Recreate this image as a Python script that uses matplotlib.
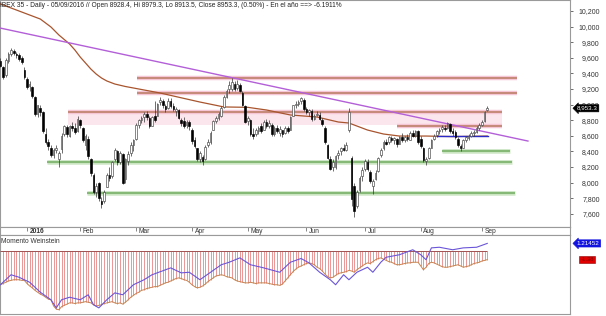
import matplotlib
matplotlib.use("Agg")
import matplotlib.pyplot as plt
import matplotlib.transforms as mtransforms
import numpy as np

plt.rcParams.update({
    'font.family': ['Liberation Sans', 'DejaVu Sans'],
    'font.size': 5,
})

# daily bars, 17 Dec 2015 .. 5 Sep 2016 (trading-day index)
opens = [
    9560, 9480, 9380, 9560, 9650, 9690, 9650, 9640, 9600, 9450,
    9330, 9240, 9230, 9100, 8880, 8960, 8900, 8620, 8520, 8440,
    8350, 8420, 8300, 8430, 8620, 8710, 8600, 8720, 8700, 8660,
    8800, 8700, 8480, 8560, 8300, 8100, 7880, 7990, 7760, 7760,
    7950, 8100, 8080, 8300, 8400, 8260, 8370, 8040, 8280, 8380,
    8480, 8560, 8740, 8800, 8840, 8880, 8830, 8730, 8850, 8860,
    9030, 9050, 8980, 8960, 9040, 8980, 8920, 8930, 8800, 8790,
    8740, 8780, 8680, 8540, 8440, 8300, 8330, 8300, 8480, 8520,
    8680, 8790, 8830, 8860, 8970, 9100, 9200, 9200, 9270, 9210,
    9250, 9150, 8980, 8790, 8800, 8620, 8620, 8660, 8720, 8680,
    8780, 8720, 8740, 8620, 8700, 8640, 8670, 8630, 8700, 8680,
    8860, 9000, 9010, 9040, 9060, 8950, 8900, 8920, 8820, 8870,
    8870, 8800, 8700, 8480, 8300, 8200, 8200, 8350, 8400, 8440,
    8420, 8670, 8320, 7960, 7700, 7900, 8080, 8180, 8270, 8140,
    7960, 8050, 8150, 8350, 8440, 8520, 8520, 8570, 8540, 8560,
    8500, 8590, 8540, 8580, 8550, 8640, 8600, 8660, 8560, 8450,
    8280, 8320, 8450, 8560, 8610, 8660, 8690, 8700, 8700, 8750,
    8660, 8650, 8560, 8470, 8450, 8540, 8570, 8600, 8630, 8650,
    8700, 8740, 8790, 8928.4,
]
highs = [
    9600, 9500, 9600, 9680, 9730, 9710, 9680, 9660, 9620, 9480,
    9360, 9300, 9240, 9110, 9000, 9000, 8920, 8700, 8560, 8480,
    8440, 8480, 8400, 8640, 8740, 8740, 8740, 8780, 8760, 8850,
    8820, 8710, 8620, 8600, 8320, 8120, 7990, 8010, 7820, 7900,
    8120, 8200, 8280, 8440, 8420, 8400, 8380, 8320, 8400, 8520,
    8560, 8760, 8820, 8860, 8900, 8920, 8850, 8860, 9050, 9020,
    9100, 9070, 9010, 9080, 9090, 9020, 8970, 8950, 8830, 8840,
    8800, 8800, 8700, 8580, 8450, 8400, 8360, 8480, 8560, 8660,
    8800, 8860, 8900, 8980, 9120, 9200, 9300, 9340, 9300, 9310,
    9280, 9170, 9000, 8850, 8810, 8700, 8700, 8720, 8760, 8800,
    8820, 8800, 8760, 8720, 8740, 8720, 8680, 8730, 8720, 8860,
    9000, 9050, 9060, 9100, 9090, 8970, 8950, 8940, 8880, 8920,
    8900, 8830, 8720, 8500, 8340, 8300, 8360, 8420, 8460, 8500,
    8520, 8960, 8340, 7990, 7900, 8090, 8200, 8300, 8300, 8160,
    8040, 8160, 8330, 8440, 8540, 8560, 8600, 8600, 8590, 8570,
    8600, 8640, 8600, 8620, 8660, 8680, 8680, 8680, 8600, 8460,
    8330, 8460, 8560, 8620, 8680, 8700, 8740, 8740, 8780, 8760,
    8700, 8680, 8580, 8500, 8560, 8600, 8620, 8660, 8670, 8720,
    8760, 8800, 8920, 8979.3,
]
lows = [
    9480, 9330, 9360, 9530, 9620, 9640, 9600, 9560, 9520, 9330,
    9200, 9180, 9090, 8850, 8840, 8860, 8640, 8500, 8420, 8330,
    8320, 8380, 8200, 8380, 8600, 8590, 8580, 8660, 8620, 8650,
    8700, 8520, 8420, 8300, 8080, 7860, 7820, 7760, 7680, 7740,
    7940, 8020, 8060, 8280, 8230, 8240, 7980, 8000, 8230, 8340,
    8400, 8540, 8700, 8760, 8780, 8800, 8700, 8720, 8780, 8850,
    9000, 8960, 8900, 8940, 8960, 8920, 8860, 8820, 8720, 8700,
    8700, 8680, 8500, 8440, 8280, 8260, 8230, 8290, 8460, 8500,
    8670, 8760, 8800, 8840, 8960, 9080, 9150, 9180, 9170, 9190,
    9160, 8980, 8760, 8740, 8600, 8560, 8600, 8620, 8640, 8670,
    8700, 8700, 8600, 8600, 8640, 8600, 8580, 8620, 8640, 8670,
    8850, 8960, 8980, 9010, 8920, 8880, 8860, 8790, 8800, 8850,
    8800, 8720, 8500, 8300, 8160, 8150, 8180, 8300, 8360, 8400,
    8400, 8650, 7700, 7560, 7680, 7880, 8020, 8150, 8150, 7990,
    7860, 8030, 8140, 8330, 8420, 8480, 8500, 8520, 8500, 8460,
    8490, 8520, 8520, 8530, 8540, 8580, 8580, 8500, 8450, 8260,
    8230, 8300, 8440, 8540, 8590, 8620, 8650, 8660, 8690, 8640,
    8600, 8560, 8460, 8400, 8440, 8520, 8540, 8580, 8600, 8640,
    8680, 8720, 8780, 8913.5,
]
closes = [
    9500, 9360, 9570, 9650, 9700, 9660, 9640, 9580, 9540, 9360,
    9230, 9270, 9110, 8880, 8990, 8900, 8660, 8520, 8470, 8360,
    8420, 8450, 8380, 8600, 8720, 8620, 8720, 8700, 8650, 8815,
    8740, 8540, 8600, 8340, 8120, 7880, 7960, 7800, 7720, 7880,
    8100, 8060, 8260, 8420, 8260, 8380, 8000, 8300, 8370, 8480,
    8540, 8740, 8800, 8830, 8880, 8840, 8720, 8840, 8800, 9010,
    9060, 8990, 8940, 9050, 8980, 8950, 8940, 8830, 8760, 8720,
    8780, 8720, 8530, 8470, 8300, 8380, 8280, 8460, 8520, 8640,
    8790, 8830, 8880, 8960, 9100, 9180, 9250, 9290, 9200, 9260,
    9180, 9000, 8780, 8830, 8620, 8600, 8680, 8700, 8660, 8780,
    8720, 8760, 8620, 8700, 8660, 8690, 8620, 8700, 8660, 8840,
    8990, 9010, 9030, 9080, 8950, 8900, 8930, 8810, 8860, 8880,
    8820, 8750, 8520, 8320, 8180, 8260, 8340, 8380, 8440, 8420,
    8480, 8900, 7790, 7640, 7880, 8060, 8160, 8280, 8180, 8020,
    8020, 8120, 8320, 8420, 8520, 8500, 8580, 8550, 8570, 8490,
    8590, 8550, 8580, 8560, 8640, 8600, 8660, 8520, 8470, 8290,
    8300, 8440, 8540, 8600, 8660, 8680, 8710, 8690, 8760, 8660,
    8640, 8580, 8480, 8440, 8540, 8580, 8600, 8640, 8650, 8700,
    8740, 8780, 8900, 8953.3,
]

# moving average read at a few bars
ma_idx = [0, 7, 15, 19, 22, 26, 28, 30, 32, 34, 36, 38, 40, 43, 47, 50,
          60, 75, 84, 93, 100, 109, 119, 127, 131, 138, 144, 150, 160, 170, 183]
ma_val = [10290, 10200, 10097, 9995, 9892, 9777, 9700, 9610, 9533, 9456,
          9392, 9341, 9303, 9264, 9232, 9213, 9149, 9033, 8970, 8965,
          8931, 8867, 8841, 8777, 8764, 8674, 8623, 8597, 8597, 8590, 8597]

# descending trendline
trend_idx = [-0.15, 198.3]
trend_val = [9982, 8533]

# horizontal levels: (price, start bar, end bar)
resist = [(9345, 51.4, 194.2), (9145, 51.4, 194.2), (8905, 25.4, 188.6), (8730, 149.1, 188.6)]
support = [(8410, 166.0, 191.6), (8268, 17.5, 192.3), (7870, 32.6, 193.5)]
blue_level = (8597, 164.1, 183.3)

months = ['2016', 'Feb', 'Mar', 'Apr', 'May', 'Jun', 'Jul', 'Aug', 'Sep']
month_idx = [10, 30, 51, 72, 93, 115, 137, 158, 181]

price_ticks = [7600, 7800, 8000, 8200, 8400, 8600, 8800, 9000,
               9200, 9400, 9600, 9800, 10000, 10200]

# Momento Weinstein (lower panel)
weinstein = [
    -5.4, -5.2, -5.0, -4.8, -4.7, -4.6, -4.6, -4.6, -4.7, -4.7,
    -5.2, -5.6, -5.9, -6.3, -6.6, -6.9, -7.1, -7.4, -7.7, -7.8,
    -8.8, -9.3, -9.4, -8.9, -8.7, -8.5, -8.3, -8.3, -8.4, -8.3,
    -8.3, -8.2, -8.1, -8.2, -8.3, -8.6, -8.8, -8.7, -8.6, -8.4,
    -8.3, -8.2, -8.1, -8.3, -8.4, -8.3, -8.5, -8.2, -7.8, -7.4,
    -7.1, -6.8, -6.6, -6.3, -6.2, -6.0, -5.9, -5.8, -5.7, -5.7,
    -5.5, -5.3, -5.1, -5.0, -4.8, -4.6, -4.4, -4.3, -4.4, -4.6,
    -4.7, -5.0, -5.4, -5.7, -5.9, -5.8, -5.6, -5.3, -4.9, -4.6,
    -4.3, -4.0, -3.9, -3.8, -3.9, -4.1, -4.2, -4.3, -4.6, -4.8,
    -4.9, -5.0, -5.1, -5.1, -5.0, -5.1, -5.2, -5.1, -5.1, -5.1,
    -5.1, -5.2, -5.3, -5.4, -5.4, -5.5, -5.3, -4.8, -4.3, -3.8,
    -3.3, -2.9, -2.6, -2.4, -2.2, -2.0, -1.9, -2.0, -2.2, -2.6,
    -2.8, -3.2, -3.7, -4.1, -4.3, -4.2, -3.9, -3.6, -3.5, -3.4,
    -3.3, -3.1, -3.2, -3.4, -3.0, -2.7, -2.4, -2.1, -1.9, -2.0,
    -1.7, -1.4, -1.2, -1.1, -1.3, -1.5, -1.7, -1.8, -2.0, -2.2,
    -2.2, -2.1, -2.0, -1.9, -1.9, -1.8, -1.8, -1.8, -2.4, -3.0,
    -2.6, -2.0, -1.8, -1.9, -2.1, -2.3, -2.5, -2.6, -2.6, -2.5,
    -2.4, -2.3, -2.2, -2.4, -2.6, -2.5, -2.4, -2.2, -2.0, -1.9,
    -1.8, -1.6, -1.5, -1.38,
]
mom_idx = [0, 4, 7, 11, 15, 19, 21, 23, 26, 30, 33, 35, 37, 40, 43, 46,
           50, 54, 57, 64, 68, 71, 75, 79, 83, 86, 90, 94, 99, 105, 109,
           113, 116, 120, 124, 126, 129, 131, 134, 138, 140, 143, 145,
           150, 155, 158, 160, 162, 165, 170, 174, 179, 183]
mom_val = [-5.4, -3.8, -4.2, -5.0, -6.6, -7.8, -9.1, -7.8, -7.4, -7.8,
           -7.0, -8.6, -9.1, -7.8, -6.7, -7.0, -5.4, -4.6, -3.8, -2.7,
           -3.5, -3.4, -4.6, -3.4, -2.2, -1.8, -1.1, -2.2, -2.7, -3.4,
           -1.8, -1.2, -1.9, -3.4, -4.6, -5.4, -3.8, -4.6, -3.4, -2.6,
           -3.4, -1.8, -1.0, -0.6, 0.2, -0.6, -1.4, 0.5, 0.6, 0.2,
           0.5, 0.6, 1.21452]

title = ("IBEX 35 - Daily - 05/09/2016 // Open 8928.4, Hi 8979.3, Lo 8913.5, "
         "Close 8953.3, (0.50%) - En el año ==> -6.1911%")

W, H = 606, 316


def rect(x0, y0, x1, y1):
    return [x0 / W, 1 - y1 / H, (x1 - x0) / W, (y1 - y0) / H]


fig = plt.figure(figsize=(W / 100, H / 100), dpi=100)
fig.patch.set_facecolor('white')
ax = fig.add_axes(rect(0, 0, 570, 227))
axd = fig.add_axes(rect(0, 227, 570, 235))
axl = fig.add_axes(rect(0, 235, 570, 314))

xlim = (-0.15, 214.1)
frame = '#9a9a9a'
for a in (ax, axd, axl):
    a.set_xlim(*xlim)
    for s in a.spines.values():
        s.set_color(frame)
        s.set_linewidth(0.8)
    a.set_xticks([])

# ---- price panel ----
ax.set_ylim(7431, 10341)
idx = np.arange(len(closes))
o = np.array(opens)
c = np.array(closes)

# level bands
ax.fill_between([25.4, 188.6], 8740, 8905, color='#fce6ee', lw=0, zorder=0)
for p, a0, a1 in resist:
    ax.plot([a0, a1], [p, p], color='#f6c6d6', lw=3.2, solid_capstyle='butt', zorder=1)
    ax.plot([a0, a1], [p, p], color='#b87a5e', lw=1.1, solid_capstyle='butt', zorder=2)
for p, a0, a1 in support:
    ax.plot([a0, a1], [p, p], color='#d4ebcd', lw=3.4, solid_capstyle='butt', zorder=1)
    ax.plot([a0, a1], [p, p], color='#86b878', lw=1.6, solid_capstyle='butt', zorder=2)
ax.plot([blue_level[1], blue_level[2]], [blue_level[0]] * 2, color='#2b2bc8', lw=1.0, zorder=4)

ax.plot(ma_idx, ma_val, color='#a8552e', lw=0.9, zorder=3)
ax.plot(trend_idx, trend_val, color='#b35fd8', lw=1.0, zorder=3)

# candles
ax.vlines(idx, lows, highs, color='#333333', lw=0.5, zorder=5)
up = c >= o
body = np.where(np.abs(c - o) < 8, 8, c - o)
ax.bar(idx[up], body[up], bottom=o[up], width=0.62, color='white',
       edgecolor='#444444', lw=0.45, zorder=6)
ax.bar(idx[~up], body[~up], bottom=o[~up], width=0.62, color='black',
       edgecolor='black', lw=0.45, zorder=6)

ax.yaxis.tick_right()
ax.set_yticks(price_ticks)
ax.set_yticklabels([f'{t:,}' for t in price_ticks])
ax.tick_params(axis='y', length=2.2, width=0.6, color='#555555', pad=19.2,
               labelsize=5, labelcolor='#333333')
for lab in ax.get_yticklabels():
    lab.set_horizontalalignment('right')

ax.text(0.002, 10272, title, fontsize=4.75, color='#222222', va='center', ha='left')

tr = mtransforms.blended_transform_factory(ax.transAxes, ax.transData)
ax.text(1.012, closes[-1], f'{closes[-1]:,.1f}', transform=tr, fontsize=4.5,
        color='white', ha='left', va='center', zorder=10, clip_on=False,
        bbox=dict(boxstyle='larrow,pad=0.18', fc='black', ec='black', lw=0.4))

# ---- date band ----
axd.set_ylim(0, 1)
axd.set_yticks([])
axd.vlines(month_idx, 0.45, 1.0, color='#555555', lw=0.5)
for m, i in zip(months, month_idx):
    axd.text(i + 1.0, 0.4, m, fontsize=4.8, color='#333333', va='center', ha='left',
             fontweight='bold' if m == '2016' else 'normal')

# ---- lower panel ----
axl.set_ylim(-10.08, 2.56)
axl.set_yticks([])
w = np.array(weinstein)
axl.vlines(idx, w, 0, color='#e78585', lw=0.6, zorder=2)
axl.hlines(0, idx[0], idx[-1], color='#a05050', lw=0.7, zorder=3)
axl.plot(idx, w, color='#c8834f', lw=0.7, zorder=3)
axl.plot(mom_idx, mom_val, color='#6b55d8', lw=0.8, zorder=4)
axl.text(0.4, 1.45, 'Momento Weinstein', fontsize=4.8, color='#333333', va='center', ha='left')

trl = mtransforms.blended_transform_factory(axl.transAxes, axl.transData)
axl.text(1.012, mom_val[-1], f'{mom_val[-1]:.5f}', transform=trl, fontsize=4.5,
         color='white', ha='left', va='center', zorder=10, clip_on=False,
         bbox=dict(boxstyle='larrow,pad=0.18', fc='#1414e0', ec='#1414e0', lw=0.4))
axl.text(1.018, weinstein[-1], f'{weinstein[-1]:.2f}', transform=trl, fontsize=4.2,
         color='#7a0000', ha='left', va='center', zorder=10, clip_on=False,
         bbox=dict(boxstyle='square,pad=0.2', fc='#e00000', ec='#900000', lw=0.4))

fig.savefig('out.png', dpi=100, facecolor='white')
